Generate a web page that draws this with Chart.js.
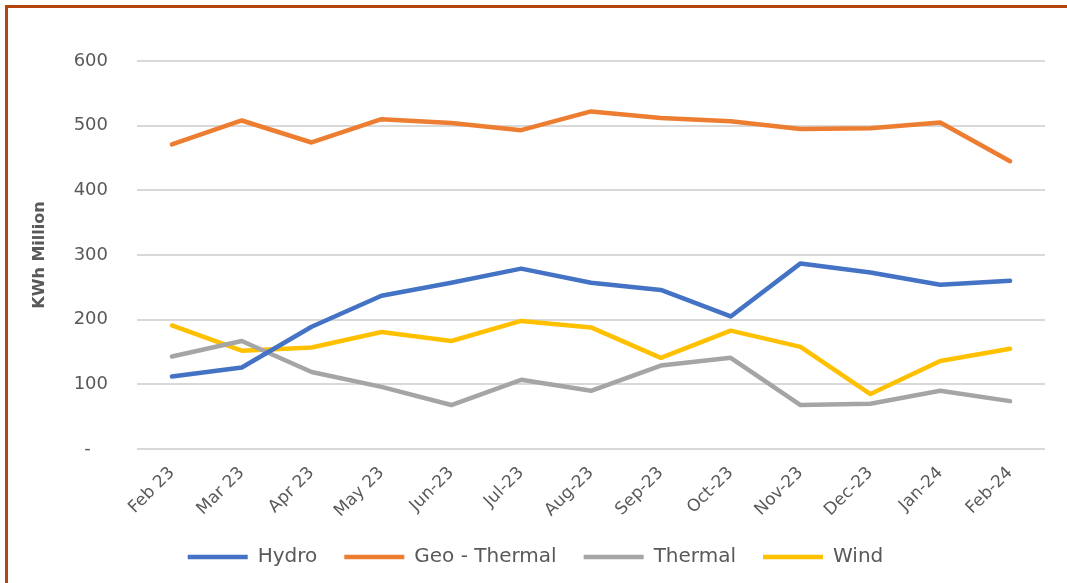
<!DOCTYPE html>
<html>
<head>
<meta charset="utf-8">
<script src="https://cdn.jsdelivr.net/npm/chart.js@4"></script>
<style>
  html, body { margin: 0; padding: 0; background: #fff; }
  #wrap { position: relative; width: 1067px; height: 583px; overflow: hidden; }
  #frame {
    position: absolute; left: 5px; top: 5px; width: 1200px; height: 700px;
    border-left: 3px solid #B4430C; border-top: 3px solid #B4430C;
  }
  canvas { position: absolute; left: 0; top: 0; }
</style>
</head>
<body>
<div id="wrap">
  <div id="frame"></div>
  <canvas id="chart" width="1067" height="583"></canvas>
</div>
<script>
// ─── Data (KWh Million) ─────────────────────────────────────
const months = ["Feb 23", "Mar 23", "Apr 23", "May 23", "Jun-23", "Jul-23", "Aug-23",
  "Sep-23", "Oct-23", "Nov-23", "Dec-23", "Jan-24", "Feb-24"];
const hydro = [112, 126, 189, 237, 257, 279, 257, 246, 205, 287, 273, 254, 260];
const geoThermal = [471, 508, 474, 510, 504, 493, 522, 512, 507, 495, 496, 505, 445];
const thermal = [143, 167, 119, 96, 68, 107, 90, 129, 141, 68, 70, 90, 74];
const wind = [191, 152, 157, 181, 167, 198, 188, 141, 183, 158, 85, 136, 155];
const yTicks = [0, 100, 200, 300, 400, 500, 600];

const FONT = "'DejaVu Sans', 'Open Sans', sans-serif";
const GREY = "#595959";

function series(label, data, color) {
  return {
    label, data,
    borderColor: color, backgroundColor: color,
    borderWidth: 4.5, borderCapStyle: "round", borderJoinStyle: "round",
    pointRadius: 0, pointHoverRadius: 0, tension: 0,
    pointStyle: "line",
  };
}

new Chart(document.getElementById("chart"), {
  type: "line",
  data: {
    labels: months,
    datasets: [
      series("Hydro", hydro, "#4472C4"),
      series("Geo - Thermal", geoThermal, "#ED7D31"),
      series("Thermal", thermal, "#A5A5A5"),
      series("Wind", wind, "#FFC000"),
    ],
  },
  options: {
    responsive: false,
    animation: false,
    layout: { padding: { left: 26, right: 22, top: 61, bottom: 6 } },
    plugins: {
      tooltip: { enabled: false },
      legend: {
        position: "bottom",
        labels: {
          usePointStyle: true,
          pointStyleWidth: 60,
          padding: 27,
          color: GREY,
          font: { family: FONT, size: 20 },
        },
      },
    },
    scales: {
      x: {
        offset: true,
        grid: { display: false },
        border: { display: false },
        ticks: {
          color: GREY, font: { family: FONT, size: 17 },
          minRotation: 45, maxRotation: 45, autoSkip: false, padding: 6,
        },
        afterFit: (s) => { s.height = 71; },
      },
      y: {
        min: 0, max: 600,
        afterBuildTicks: (s) => { s.ticks = yTicks.map((v) => ({ value: v })); },
        grid: { color: "#D9D9D9", lineWidth: 2, drawTicks: false },
        border: { display: false },
        ticks: {
          color: GREY, font: { family: FONT, size: 18 }, padding: 29,
          callback: (v) => (v === 0 ? "-   " : v),
        },
        title: {
          display: true, text: "KWh Million", color: GREY,
          font: { family: FONT, size: 16, weight: "bold" },
        },
        afterFit: (s) => { s.width = 111; },
      },
    },
  },
});
</script>
</body>
</html>
